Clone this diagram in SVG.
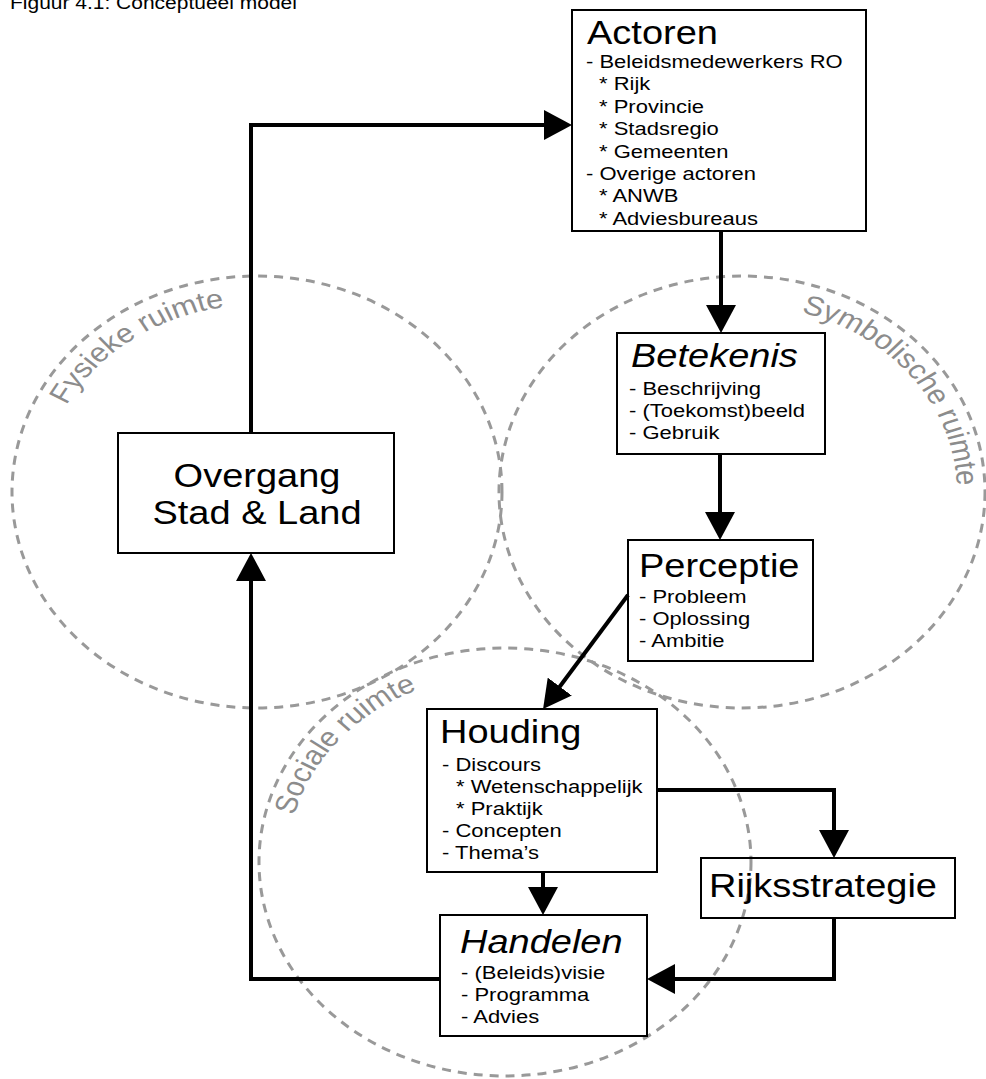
<svg xmlns="http://www.w3.org/2000/svg" xmlns:xlink="http://www.w3.org/1999/xlink" width="986" height="1079" viewBox="0 0 986 1079">
<style>
.box{fill:none;stroke:#000;stroke-width:2}
.t{font-family:"Liberation Sans",Arial,sans-serif;fill:#000}
.h{font-size:38px}
.hi{font-size:38px;font-style:italic}
.b{font-size:22px}
.ring{fill:none;stroke:#999;stroke-width:3;stroke-dasharray:9 7}
.lbl{font-family:"Liberation Sans",Arial,sans-serif;font-size:31px;fill:#8c8c8c}
.con{fill:none;stroke:#000;stroke-width:4;stroke-linejoin:miter;marker-end:url(#ah)}
</style>
<defs>
<marker id="ah" viewBox="0 0 28 30" refX="8" refY="15" markerWidth="28" markerHeight="30" markerUnits="userSpaceOnUse" orient="auto">
<path d="M0,0 L28,15 L0,30 Z" fill="#000"/>
</marker>
<path id="pF" d="M43,586.1 A215,215 0 0 1 346.2,369.9"/>
<path id="pS" d="M712.1,352.6 A215,215 0 0 1 941.3,646"/>
<path id="pSo" d="M300.1,1062.8 A215,215 0 0 1 542.3,779.1"/>
</defs>

<text class="t" font-size="21" transform="translate(10 9) scale(1 .85)">Figuur 4.1: Conceptueel model</text>

<g id="rings">
<ellipse class="ring" cx="257" cy="492" rx="245" ry="216"/>
<ellipse class="ring" cx="742" cy="492" rx="243" ry="216"/>
<ellipse class="ring" cx="505" cy="862" rx="246" ry="214"/>
<g transform="scale(1 .87)">
<text class="lbl" text-anchor="middle"><textPath xlink:href="#pF" href="#pF" startOffset="50%">Fysieke ruimte</textPath></text>
<text class="lbl" text-anchor="middle"><textPath xlink:href="#pS" href="#pS" startOffset="50%">Symbolische ruimte</textPath></text>
<text class="lbl" text-anchor="middle"><textPath xlink:href="#pSo" href="#pSo" startOffset="50%">Sociale ruimte</textPath></text>
</g>
</g>

<g id="connectors">
<path class="con" d="M251,433 V125 H552"/>
<path class="con" d="M721,231 V313"/>
<path class="con" d="M720,454 V520"/>
<path class="con" d="M628,595 L555,693"/>
<path class="con" d="M543,872 V895"/>
<path class="con" d="M657,790 H834 V838"/>
<path class="con" d="M834,918 V979 H667"/>
<path class="con" d="M440,979 H251 V573"/>
</g>

<g id="actoren">
<rect class="box" x="572" y="10" width="294" height="221"/>
<text class="t h" transform="translate(587 44) scale(1 .85)">Actoren</text>
<text class="t b" transform="translate(586 68) scale(1 .85)">- Beleidsmedewerkers RO</text>
<text class="t b" transform="translate(599 90.4) scale(1 .85)">* Rijk</text>
<text class="t b" transform="translate(599 112.8) scale(1 .85)">* Provincie</text>
<text class="t b" transform="translate(599 135.2) scale(1 .85)">* Stadsregio</text>
<text class="t b" transform="translate(599 157.6) scale(1 .85)">* Gemeenten</text>
<text class="t b" transform="translate(586 180) scale(1 .85)">- Overige actoren</text>
<text class="t b" transform="translate(599 202.4) scale(1 .85)">* ANWB</text>
<text class="t b" transform="translate(599 224.8) scale(1 .85)">* Adviesbureaus</text>
</g>

<g id="betekenis">
<rect class="box" x="617" y="333" width="208" height="121"/>
<text class="t hi" transform="translate(631 367) scale(1 .85)">Betekenis</text>
<text class="t b" transform="translate(629 395) scale(1 .85)">- Beschrijving</text>
<text class="t b" transform="translate(629 417) scale(1 .85)">- (Toekomst)beeld</text>
<text class="t b" transform="translate(629 439) scale(1 .85)">- Gebruik</text>
</g>

<g id="perceptie">
<rect class="box" x="628" y="540" width="185" height="121"/>
<text class="t h" transform="translate(639 577) scale(1 .85)">Perceptie</text>
<text class="t b" transform="translate(639 603) scale(1 .85)">- Probleem</text>
<text class="t b" transform="translate(639 625) scale(1 .85)">- Oplossing</text>
<text class="t b" transform="translate(639 647) scale(1 .85)">- Ambitie</text>
</g>

<g id="houding">
<rect class="box" x="427" y="709" width="230" height="163"/>
<text class="t h" transform="translate(440 743) scale(1 .85)">Houding</text>
<text class="t b" transform="translate(442 771) scale(1 .85)">- Discours</text>
<text class="t b" transform="translate(456 793) scale(1 .85)">* Wetenschappelijk</text>
<text class="t b" transform="translate(456 815) scale(1 .85)">* Praktijk</text>
<text class="t b" transform="translate(442 837) scale(1 .85)">- Concepten</text>
<text class="t b" transform="translate(442 859) scale(1 .85)">- Thema’s</text>
</g>

<g id="rijksstrategie">
<rect class="box" x="701" y="858" width="254" height="60"/>
<text class="t h" transform="translate(709 897) scale(1 .85)">Rijksstrategie</text>
</g>

<g id="handelen">
<rect class="box" x="440" y="915" width="207" height="121"/>
<text class="t hi" transform="translate(460 953) scale(1 .85)">Handelen</text>
<text class="t b" transform="translate(461 979) scale(1 .85)">- (Beleids)visie</text>
<text class="t b" transform="translate(461 1001) scale(1 .85)">- Programma</text>
<text class="t b" transform="translate(461 1023) scale(1 .85)">- Advies</text>
</g>

<g id="overgang">
<rect class="box" x="118" y="433" width="276" height="120"/>
<text class="t h" text-anchor="middle" transform="translate(257 487) scale(1 .85)">Overgang</text>
<text class="t h" text-anchor="middle" transform="translate(257 524) scale(1 .85)">Stad &amp; Land</text>
</g>
</svg>
